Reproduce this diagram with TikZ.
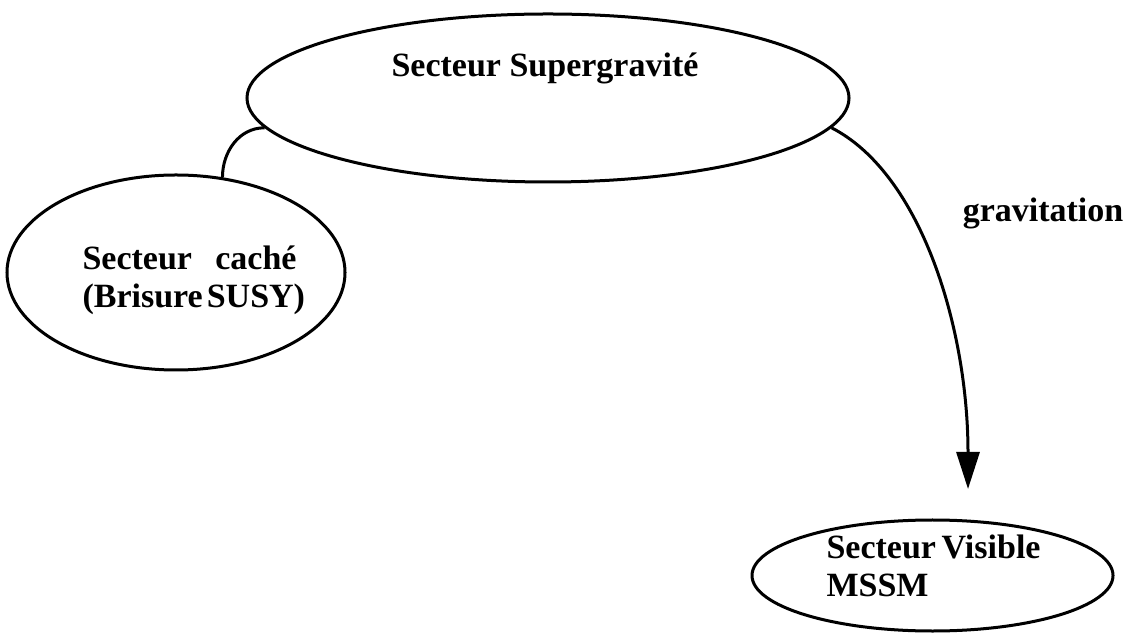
\documentclass[tikz,border=0pt]{standalone}
\usepackage{fontspec}
\setmainfont{Liberation Serif}
\usetikzlibrary{arrows.meta,shapes.geometric}

\begin{document}
\begin{tikzpicture}[x=0.5bp,y=0.5bp,>=Stealth,line width=1.5bp,
  every node/.style={font=\bfseries\fontsize{17bp}{19bp}\selectfont},
  sector/.style={draw,ellipse,inner sep=0pt},
  sectortext/.style={anchor=base west,text width=107bp,align=left,inner sep=0pt}]
\useasboundingbox (0,0) rectangle (1127,632);
\node[sector,minimum width=301bp,minimum height=84bp] (sugra) at (548,534) {};
\node[anchor=base] (sugralabel) at (545,555) {Secteur Supergravité};
\node[sector,minimum width=169bp,minimum height=97.5bp] (cache) at (176,359.5) {};
\node[sectortext] (cachelabel) at (81,362) {Secteur\hfill caché\\\mbox{(Brisure\hspace{0.12em}SUSY)}};
\node[sector,minimum width=180.5bp,minimum height=55.5bp] (visible) at (932.5,56.5) {};
\node[sectortext] (visiblelabel) at (825,74) {Secteur\hfill Visible\\MSSM};
\node[anchor=base] (gravlabel) at (1043,410) {gravitation};
\coordinate (tip) at (968,143);
\draw (cache.64) to[out=90,in=180] (sugra.186.4);
\draw[-{Triangle[length=18.5bp,width=11.5bp]}] (sugra.-6.4) .. controls +(90,-46) and +(0,160) .. (tip);
\end{tikzpicture}
\end{document}
